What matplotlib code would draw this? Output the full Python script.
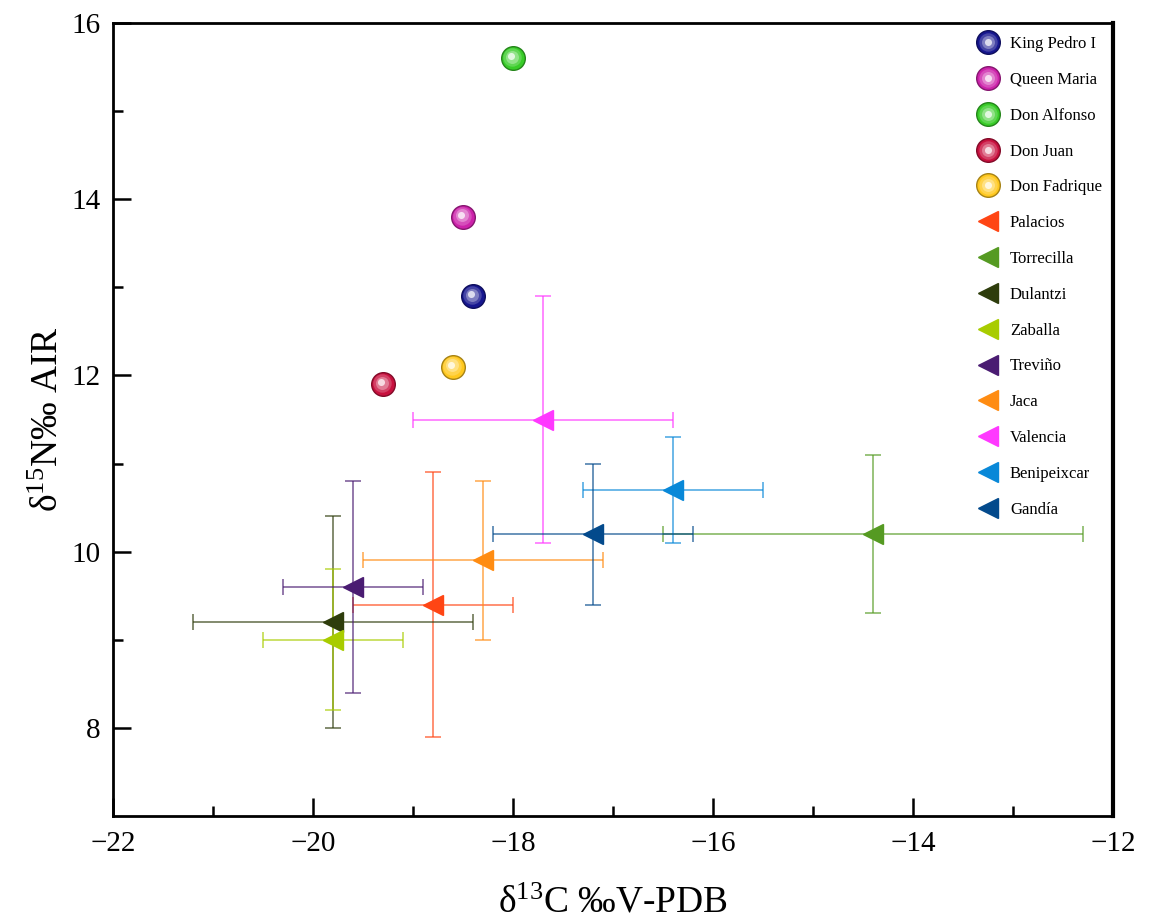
import matplotlib
matplotlib.use('Agg')
import matplotlib.pyplot as plt
from matplotlib.colors import to_rgb
from matplotlib.lines import Line2D
from matplotlib.transforms import ScaledTranslation
from matplotlib.legend_handler import HandlerTuple
import numpy as np

plt.rcParams['font.family'] = ['Liberation Serif', 'DejaVu Serif']
plt.rcParams['mathtext.fontset'] = 'custom'
plt.rcParams['mathtext.rm'] = 'Liberation Serif'
plt.rcParams['mathtext.it'] = 'Liberation Serif:italic'

# ---- data ----
burial_names = ['King Pedro I', 'Queen Maria', 'Don Alfonso', 'Don Juan', 'Don Fadrique']
burial_x = [-18.4, -18.5, -18.0, -19.3, -18.6]
burial_y = [12.9, 13.8, 15.6, 11.9, 12.1]
burial_colors = ['#16168f', '#cc22aa', '#38cc28', '#c8103e', '#ffc81e']

site_names = ['Palacios', 'Torrecilla', 'Dulantzi', 'Zaballa', 'Treviño',
              'Jaca', 'Valencia', 'Benipeixcar', 'Gandía']
site_x = [-18.8, -14.4, -19.8, -19.8, -19.6, -18.3, -17.7, -16.4, -17.2]
site_y = [9.4, 10.2, 9.2, 9.0, 9.6, 9.9, 11.5, 10.7, 10.2]
site_xerr = [0.8, 2.1, 1.4, 0.7, 0.7, 1.2, 1.3, 0.9, 1.0]
site_yerr = [1.5, 0.9, 1.2, 0.8, 1.2, 0.9, 1.4, 0.6, 0.8]
site_colors = ['#ff4514', '#559a22', '#2e3d0c', '#a8cc00', '#4a1c72',
               '#ff8c12', '#ff38ff', '#0888d8', '#034a8c']

x_ticks = [-22, -20, -18, -16, -14, -12]
y_ticks = [8, 10, 12, 14, 16]

W, H, DPI = 1151, 924, 100
fig = plt.figure(figsize=(W / DPI, H / DPI), dpi=DPI)
ax = fig.add_axes([113 / W, 1 - 816 / H, (1113 - 113) / W, (816 - 23) / H])


def mix(c, other, t):
    c = np.array(to_rgb(c))
    o = np.array(to_rgb(other))
    return tuple(c * (1 - t) + o * t)


# ---- site error bars + triangles ----
site_handles = []
for name, x, y, xe, ye, col in zip(site_names, site_x, site_y, site_xerr, site_yerr, site_colors):
    ax.errorbar(x, y, xerr=xe, yerr=ye, fmt='none', ecolor=col, alpha=0.6,
                elinewidth=1.4, capsize=6, capthick=1.4, zorder=2)
    ax.plot(x, y, marker='<', ms=14, color=col, mec=col, ls='none', zorder=4)
    site_handles.append(Line2D([], [], marker='<', ms=14, color=col, mec=col, ls='none'))

# ---- burials as shaded spheres ----
ms = 17
layers = [(1.0, 0.0, 0.0), (0.78, 0.2, 0.6), (0.55, 0.45, 1.0), (0.3, 0.85, 1.3)]
burial_handles = []
for name, x, y, col in zip(burial_names, burial_x, burial_y, burial_colors):
    parts = []
    for i, (scale, white, off) in enumerate(layers):
        fc = mix(col, 'white', white)
        tr = ax.transData + ScaledTranslation(-off / 72, off / 72, fig.dpi_scale_trans)
        kw = dict(marker='o', ms=ms * scale, mfc=fc, ls='none', zorder=5 + i)
        if i == 0:
            kw['mec'] = mix(col, 'black', 0.35)
            kw['mew'] = 1.0
        else:
            kw['mec'] = 'none'
        ax.plot(x, y, transform=tr, **kw)
        parts.append(Line2D([], [], **{k: v for k, v in kw.items() if k != 'zorder'}))
    burial_handles.append(tuple(parts))

# ---- axes styling ----
ax.set_xlim(-22, -12)
ax.set_ylim(7, 16)
ax.set_xticks(x_ticks)
ax.set_yticks(y_ticks)
ax.set_xticks(np.arange(-21, -12, 2), minor=True)
ax.set_yticks(np.arange(9, 16, 2), minor=True)
ax.set_xticklabels([f'\u2212{abs(v)}' for v in x_ticks])
ax.tick_params(which='both', direction='in', top=False, right=False, width=1.8)
ax.tick_params(which='major', length=13, labelsize=21, pad=9)
ax.tick_params(which='minor', length=7)
ax.tick_params(axis='x', which='major', pad=11)
for s in ['left', 'bottom', 'top']:
    ax.spines[s].set_linewidth(2.0)
ax.spines['right'].set_linewidth(3.0)

ax.set_xlabel('δ$^{13}$C ‰V-PDB', fontsize=27, labelpad=21)
ax.set_ylabel('δ$^{15}$N‰ AIR', fontsize=27, labelpad=4)

leg = ax.legend(burial_handles + site_handles, burial_names + site_names,
                handler_map={tuple: HandlerTuple(ndivide=1, pad=0)},
                loc='upper left', bbox_to_anchor=(980 / W, 1 - 36 / H),
                bbox_transform=fig.transFigure, frameon=False, fontsize=12,
                handlelength=1.0, handletextpad=0.8, labelspacing=1.19,
                borderpad=0, borderaxespad=0)

fig.savefig('out.png', dpi=DPI)
